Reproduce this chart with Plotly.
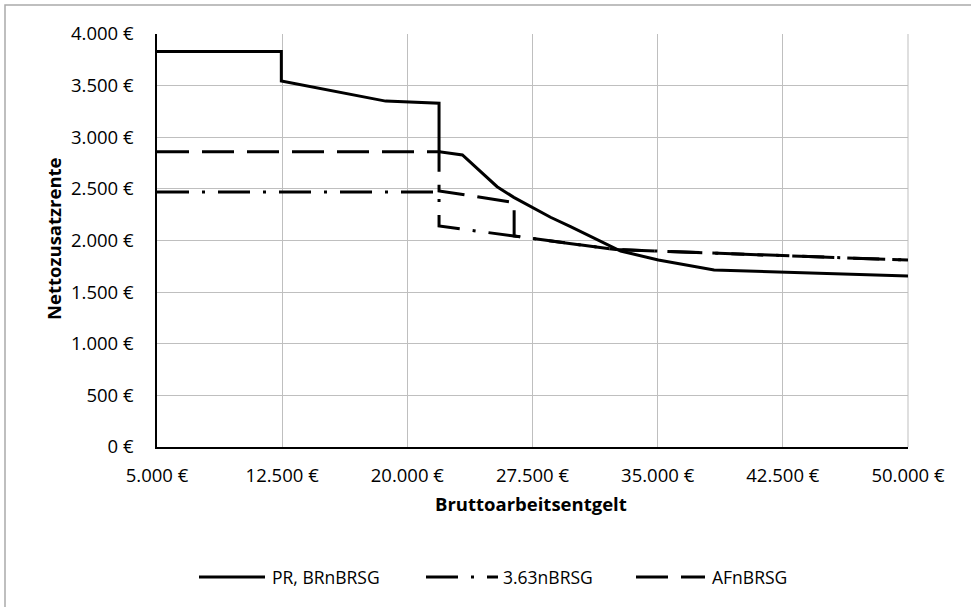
import plotly.graph_objects as go

# Series: PR, BRnBRSG (solid)
gross_pr = [5000, 12450, 12450, 18700, 21900, 21900, 23300, 24300, 25380, 26380,
            27380, 28580, 29780, 31280, 32780, 35040, 36700, 38380, 50000]
net_pr = [3830, 3830, 3545, 3350, 3330, 2860, 2828, 2680, 2521, 2418,
          2327, 2225, 2134, 2016, 1898, 1811, 1760, 1714, 1655]

# Series: 3.63nBRSG (dash-dot)
gross_363 = [5000, 21900, 21900, 32500, 50000]
net_363 = [2470, 2470, 2140, 1912, 1810]

# Series: AFnBRSG (long dash)
gross_af = [5000, 21900, 21900, 26400, 26400, 32500, 50000]
net_af = [2860, 2860, 2480, 2368, 2043, 1912, 1810]

series_names = ["PR, BRnBRSG", "3.63nBRSG", "AFnBRSG"]

x_title = "Bruttoarbeitsentgelt"
y_title = "Nettozusatzrente"

FONT = "Open Sans"
FS = 18.5
FS_LEG = 17.5
DASHES = ["solid", "32px,13px,3px,13px", "32px,13px"]

fig = go.Figure()
for xs, ys, nm, dash in [(gross_pr, net_pr, series_names[0], DASHES[0]),
                         (gross_363, net_363, series_names[1], DASHES[1]),
                         (gross_af, net_af, series_names[2], DASHES[2])]:
    fig.add_trace(go.Scatter(x=xs, y=ys, mode="lines", name=nm, showlegend=False,
                             line=dict(color="black", width=3, dash=dash)))

W, H = 971, 607
L, R, T, B = 157, 908, 34, 447
pw, ph = R - L, B - T

def px_x(p):
    return (p - L) / pw

def px_y(p):
    return (B - p) / ph

shapes = [
    dict(type="line", xref="paper", yref="paper", x0=1, x1=1,
         y0=0, y1=1, line=dict(color="#BFBFBF", width=1), layer="below"),
    dict(type="rect", xref="paper", yref="paper", x0=px_x(5), x1=px_x(1000),
         y0=px_y(5), y1=px_y(700), line=dict(color="#AAAAAA", width=1.5),
         fillcolor="rgba(0,0,0,0)"),
]
annotations = [
    dict(text="<b>" + x_title + "</b>", xref="paper", yref="paper",
         x=px_x(531), y=px_y(504), showarrow=False, xanchor="center", yanchor="middle",
         font=dict(family=FONT, size=FS, color="black")),
    dict(text="<b>" + y_title + "</b>", xref="paper", yref="paper", textangle=-90,
         x=px_x(54), y=px_y(239), showarrow=False, xanchor="center", yanchor="middle",
         font=dict(family=FONT, size=FS, color="black")),
]

# Legend (drawn manually so the long dash patterns are visible)
LEG_Y = 577
legend_lines = [(199, 265), (426, 498), (636, 705)]
legend_text_x = [270, 501, 710]
for (a, b), tx, nm, dash in zip(legend_lines, legend_text_x, series_names, DASHES):
    shapes.append(dict(type="line", xref="paper", yref="paper",
                       x0=px_x(a), x1=px_x(b), y0=px_y(LEG_Y), y1=px_y(LEG_Y),
                       line=dict(color="black", width=3, dash=dash)))
    annotations.append(dict(text=nm, xref="paper", yref="paper", x=px_x(tx), y=px_y(LEG_Y),
                            showarrow=False, xanchor="left", yanchor="middle",
                            font=dict(family=FONT, size=FS_LEG, color="black")))

fig.update_layout(
    width=W, height=H,
    margin=dict(l=L, r=W - R, t=T, b=H - B, pad=0),
    paper_bgcolor="white", plot_bgcolor="white",
    separators=",.",
    font=dict(family=FONT, size=FS, color="black"),
    showlegend=False,
    xaxis=dict(range=[5000, 50000], tick0=5000, dtick=7500, tickformat=",.0f", ticksuffix=" €",
               showgrid=True, gridcolor="#BFBFBF", gridwidth=1, automargin=False,
               showline=True, linecolor="black", linewidth=1.5, zeroline=False,
               ticks="", ticklabelstandoff=11,
               tickfont=dict(family=FONT, size=FS, color="black")),
    yaxis=dict(range=[0, 4000], dtick=500, tickformat=",.0f", ticksuffix=" €",
               showgrid=True, gridcolor="#BFBFBF", gridwidth=1, automargin=False,
               showline=True, linecolor="black", linewidth=1.5, zeroline=False,
               ticks="", ticklabelstandoff=18,
               tickfont=dict(family=FONT, size=FS, color="black")),
    shapes=shapes,
    annotations=annotations,
)

fig.write_html("out.html",
               config={"displayModeBar": False},
               post_script="document.body.style.margin='0';document.body.style.overflow='hidden';")
